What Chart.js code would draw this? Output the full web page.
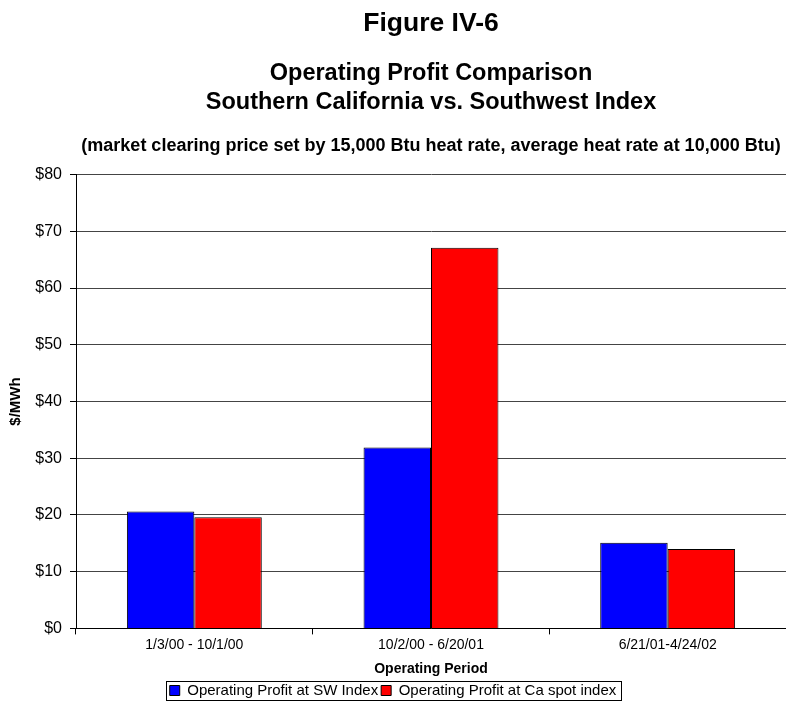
<!DOCTYPE html>
<html>
<head>
<meta charset="utf-8">
<script src="https://cdn.jsdelivr.net/npm/chart.js@4"></script>
<style>
    html, body { margin: 0; padding: 0; background: #fff; }
    #wrap { width: 786px; height: 708px; }
</style>
</head>
<body>
<div id="wrap"><canvas id="chart"></canvas></div>
<script>
// datos
const periods = ["1/3/00 - 10/1/00", "10/2/00 - 6/20/01", "6/21/01-4/24/02"];
const swIndex = [20.6, 31.9, 15.1];
const caSpot = [19.6, 67.1, 14.0];
const yTicks = [0, 10, 20, 30, 40, 50, 60, 70, 80];

const FONT = "'Liberation Sans', Arial, sans-serif";
const note = "(market clearing price set by 15,000 Btu heat rate, average heat rate at 10,000 Btu)";

// linea de nota sobre el area del grafico + borde de la leyenda
const extras = {
    id: "extras",
    afterDraw(chart) {
        const ctx = chart.ctx;
        const area = chart.chartArea;
        ctx.save();
        ctx.fillStyle = "#000";
        ctx.font = "bold 18px " + FONT;
        ctx.textAlign = "center";
        ctx.textBaseline = "middle";
        ctx.fillText(note, (area.left + area.right) / 2, area.top - 29);

        const boxes = chart.legend.legendHitBoxes;
        if (boxes && boxes.length) {
            const first = boxes[0];
            const last = boxes[boxes.length - 1];
            const x0 = first.left - 4;
            const x1 = last.left + last.width + 4;
            const y0 = first.top - 2;
            const y1 = first.top + first.height + 2;
            ctx.strokeStyle = "#000";
            ctx.lineWidth = 1;
            ctx.strokeRect(Math.round(x0) + 0.5, Math.round(y0) + 0.5, Math.round(x1 - x0), Math.round(y1 - y0));
        }
        ctx.restore();
    }
};

new Chart(document.getElementById("chart"), {
    type: "bar",
    data: {
        labels: periods,
        datasets: [{
            label: "Operating Profit at SW Index",
            data: swIndex,
            backgroundColor: "#0000FF",
            borderColor: "#000",
            borderWidth: 1
        }, {
            label: "Operating Profit at Ca spot index",
            data: caSpot,
            backgroundColor: "#FF0000",
            borderColor: "#000",
            borderWidth: 1
        }]
    },
    options: {
        responsive: true,
        maintainAspectRatio: false,
        animation: false,
        categoryPercentage: 0.57,
        barPercentage: 1.0,
        layout: { padding: { left: 0, right: 0, top: 0, bottom: 0 } },
        plugins: {
            title: {
                display: true,
                text: "Figure IV-6",
                color: "#000",
                fullSize: false,
                font: { family: FONT, size: 26.5, weight: "bold", lineHeight: 1.2 },
                padding: { top: 8, bottom: 19 }
            },
            subtitle: {
                display: true,
                text: ["Operating Profit Comparison", "Southern California vs. Southwest Index"],
                color: "#000",
                fullSize: false,
                font: { family: FONT, size: 23.5, weight: "bold", lineHeight: 1.23 },
                padding: { top: 0, bottom: 58 }
            },
            legend: {
                position: "bottom",
                labels: {
                    color: "#000",
                    font: { family: FONT, size: 15 },
                    boxWidth: 10,
                    boxHeight: 10,
                    padding: 3
                }
            },
            tooltip: { enabled: false }
        },
        scales: {
            x: {
                grid: {
                    display: true,
                    drawOnChartArea: false,
                    offset: true,
                    tickLength: 6,
                    tickColor: "#000"
                },
                border: { color: "#000", width: 1 },
                ticks: {
                    color: "#000",
                    font: { family: FONT, size: 14 },
                    maxRotation: 0,
                    padding: 2
                },
                title: {
                    display: true,
                    text: "Operating Period",
                    color: "#000",
                    font: { family: FONT, size: 14, weight: "bold" },
                    padding: { top: 6, bottom: 2 }
                }
            },
            y: {
                min: 0,
                max: 80,
                afterBuildTicks: (scale) => {
                    scale.ticks = yTicks.map(v => ({ value: v }));
                },
                afterFit: (scale) => { scale.width = 76; },
                grid: {
                    color: "#444",
                    lineWidth: 1,
                    tickLength: 6,
                    tickColor: "#000"
                },
                border: { color: "#000", width: 1 },
                ticks: {
                    color: "#000",
                    font: { family: FONT, size: 16 },
                    padding: 8,
                    callback: (v) => "$" + v
                },
                title: {
                    display: true,
                    text: "$/MWh",
                    color: "#000",
                    font: { family: FONT, size: 15, weight: "bold" },
                    padding: { top: 7, bottom: 0 }
                }
            }
        }
    },
    plugins: [extras]
});
</script>
</body>
</html>
